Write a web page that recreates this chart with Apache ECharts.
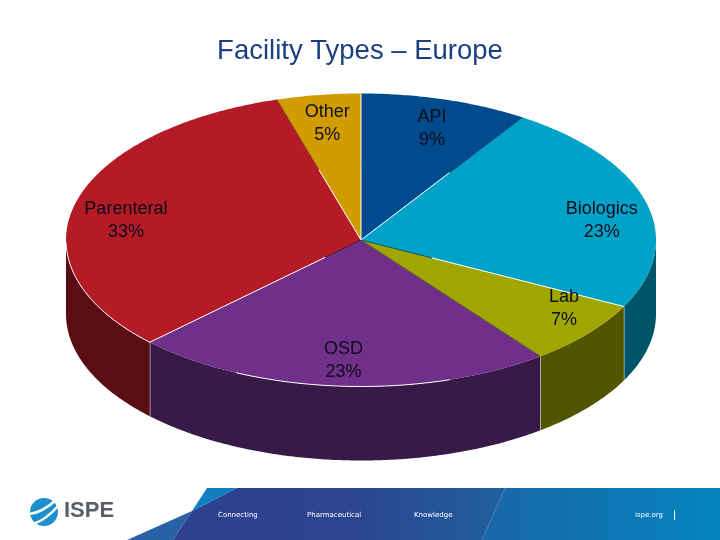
<!DOCTYPE html>
<html>
<head>
<meta charset="utf-8">
<title>Facility Types – Europe</title>
<script src="https://cdn.jsdelivr.net/npm/echarts@6/dist/echarts.min.js"></script>
<style>
  html, body { margin: 0; padding: 0; background: #fff; }
  #chart { width: 720px; height: 540px; }
</style>
</head>
<body>
<div id="chart"></div>
<script>
// slices run clockwise from 12 o'clock
const categories = ['API', 'Biologics', 'Lab', 'OSD', 'Parenteral', 'Other']
// the labels show them rounded
const values = [9.2, 23.3, 7.1, 23.1, 32.7, 4.6]

const topColors = ['#004b8d', '#00a3c7', '#a0a600', '#70308a', '#b31b27', '#d19c00']
const sideColors = ['#00264a', '#005468', '#525400', '#371a47', '#5a0d12', '#6b5000']
// separator at the start of each slice: inner colour, outer colour, where it changes
const edgeColors = [
  ['#ffffff', '#ffffff', 0.5],
  ['#ffffff', '#00385f', 0.55],
  ['#005468', '#ffffff', 0.27],
  ['#5a5c20', '#5a5c20', 0.5],
  ['#4a1230', '#ffffff', 0.17],
  ['#ffffff', '#8a4a10', 0.5]
]
// part of each slice's front rim that has a white highlight
const rimHighlight = [null, null, null, [0.24, 0.75], [0, 0.37], null]
// nudges for the labels, on top of the common label ring
const labelNudge = [[2, 4], [7, 12], [17, -8], [0, 1], [-1, 11], [1, 2]]

const cx = 361
const cy = 240
const rx = 295
const ry = 146.5
const depth = 74
const labelRing = 0.82

const total = values.reduce((a, b) => a + b, 0)
const startOf = (i) => values.slice(0, i).reduce((a, b) => a + b, 0) / total * Math.PI * 2

const onRim = (a, r = 1, dy = 0) => [
  cx + Math.sin(a) * rx * r,
  cy - Math.cos(a) * ry * r + dy
]

const arc = (a0, a1, dy = 0) => {
  const steps = Math.max(2, Math.ceil((a1 - a0) / 0.01))
  const pts = []
  for (let k = 0; k <= steps; k++) pts.push(onRim(a0 + (a1 - a0) * k / steps, 1, dy))
  return pts
}

const renderSlice = (params, api) => {
  const i = params.dataIndex
  const a0 = startOf(i)
  const a1 = a0 + api.value(0) / total * Math.PI * 2
  const children = []

  // side wall is only visible on the front half
  const s0 = Math.max(a0, Math.PI / 2)
  const s1 = Math.min(a1, Math.PI * 1.5)
  if (s1 > s0) {
    const upper = arc(s0, s1)
    const lower = arc(s0, s1, depth).reverse()
    children.push({
      type: 'polygon',
      shape: { points: upper.concat(lower) },
      style: { fill: sideColors[i] }
    })
    if (a1 < Math.PI * 1.5) {
      const p = onRim(a1)
      children.push({
        type: 'line',
        shape: { x1: p[0], y1: p[1], x2: p[0], y2: p[1] + depth },
        style: { stroke: '#fff', lineWidth: 1 }
      })
    }
  }

  children.push({
    type: 'polygon',
    shape: { points: [[cx, cy]].concat(arc(a0, a1)) },
    style: { fill: topColors[i] }
  })

  if (rimHighlight[i]) {
    const span = a1 - a0
    children.push({
      type: 'polyline',
      shape: { points: arc(a0 + span * rimHighlight[i][0], a0 + span * rimHighlight[i][1]) },
      style: { stroke: '#fff', lineWidth: 1, fill: null }
    })
  }
  return { type: 'group', children }
}

const renderEdge = (params) => {
  const i = params.dataIndex
  const a = startOf(i)
  const mid = onRim(a, edgeColors[i][2])
  const end = onRim(a)
  return {
    type: 'group',
    children: [
      { type: 'line', shape: { x1: cx, y1: cy, x2: mid[0], y2: mid[1] }, style: { stroke: edgeColors[i][0], lineWidth: 1 } },
      { type: 'line', shape: { x1: mid[0], y1: mid[1], x2: end[0], y2: end[1] }, style: { stroke: edgeColors[i][1], lineWidth: 1 } }
    ]
  }
}

const renderLabel = (params, api) => {
  const i = params.dataIndex
  const mid = startOf(i) + api.value(0) / total * Math.PI
  const p = onRim(mid, labelRing)
  return {
    type: 'text',
    x: p[0] + labelNudge[i][0],
    y: p[1] + labelNudge[i][1],
    style: {
      text: categories[i] + '\n' + Math.round(api.value(0)) + '%',
      fontFamily: '"Liberation Sans", Arial, sans-serif',
      fontSize: 18,
      lineHeight: 23,
      fill: '#0d0d1a',
      align: 'center',
      verticalAlign: 'middle'
    }
  }
}

const footerText = (text, x) => ({
  type: 'text',
  z: 5,
  x,
  y: 515,
  style: {
    text,
    fontFamily: '"DejaVu Sans", sans-serif',
    fontSize: 7,
    fill: '#fff',
    verticalAlign: 'middle'
  }
})

const swoosh = (x1, y1, cpx, cpy, x2, y2) => ({
  type: 'bezierCurve',
  z: 5,
  shape: { x1, y1, cpx1: cpx, cpy1: cpy, x2, y2 },
  style: { stroke: '#fff', lineWidth: 2.5, fill: null }
})

const chart = echarts.init(document.getElementById('chart'), null, { renderer: 'canvas' })
chart.setOption({
  animation: false,
  title: {
    text: 'Facility Types – Europe',
    left: 'center',
    top: 32,
    textStyle: {
      fontFamily: '"Liberation Sans", Arial, sans-serif',
      fontSize: 27.5,
      fontWeight: 'normal',
      color: '#1c3f80'
    }
  },
  series: [
    { type: 'custom', coordinateSystem: 'none', data: values, renderItem: renderSlice, silent: true, z: 2 },
    { type: 'custom', coordinateSystem: 'none', data: values, renderItem: renderEdge, silent: true, z: 3 },
    { type: 'custom', coordinateSystem: 'none', data: values, renderItem: renderLabel, silent: true, z: 4 }
  ],
  graphic: [
    {
      type: 'polygon',
      z: 1,
      shape: { points: [[237, 488], [505, 488], [482, 540], [173, 540], [192, 511]] },
      style: {
        fill: new echarts.graphic.LinearGradient(0, 0, 1, 0, [
          { offset: 0, color: '#2f3f8e' },
          { offset: 0.55, color: '#2c4590' },
          { offset: 1, color: '#20609f' }
        ])
      }
    },
    {
      type: 'polygon',
      z: 1,
      shape: { points: [[505, 488], [720, 488], [720, 540], [482, 540]] },
      style: {
        fill: new echarts.graphic.LinearGradient(0, 0, 1, 0, [
          { offset: 0, color: '#1a66a8' },
          { offset: 1, color: '#0484bf' }
        ])
      }
    },
    { type: 'polygon', z: 1, shape: { points: [[207, 488], [237, 488], [192, 511]] }, style: { fill: '#0f7fc0' } },
    { type: 'polygon', z: 1, shape: { points: [[127, 540], [192, 511], [173, 540]] }, style: { fill: '#2a62a8' } },
    footerText('Connecting', 218),
    footerText('Pharmaceutical', 307),
    footerText('Knowledge', 414),
    footerText('ispe.org', 635),
    { type: 'rect', z: 5, shape: { x: 674, y: 510, width: 1, height: 10 }, style: { fill: '#fff' } },
    {
      type: 'text',
      z: 5,
      x: 64,
      y: 511,
      style: {
        text: 'ISPE',
        fontFamily: '"Liberation Sans", Arial, sans-serif',
        fontSize: 22,
        fontWeight: 'bold',
        fill: '#5a5f66',
        verticalAlign: 'middle'
      }
    },
    { type: 'circle', z: 4, shape: { cx: 44, cy: 512, r: 14 }, style: { fill: '#1d8fcb' } },
    swoosh(29, 514, 42, 513, 57, 499),
    swoosh(33, 524, 46, 520, 58, 506)
  ]
})
</script>
</body>
</html>
